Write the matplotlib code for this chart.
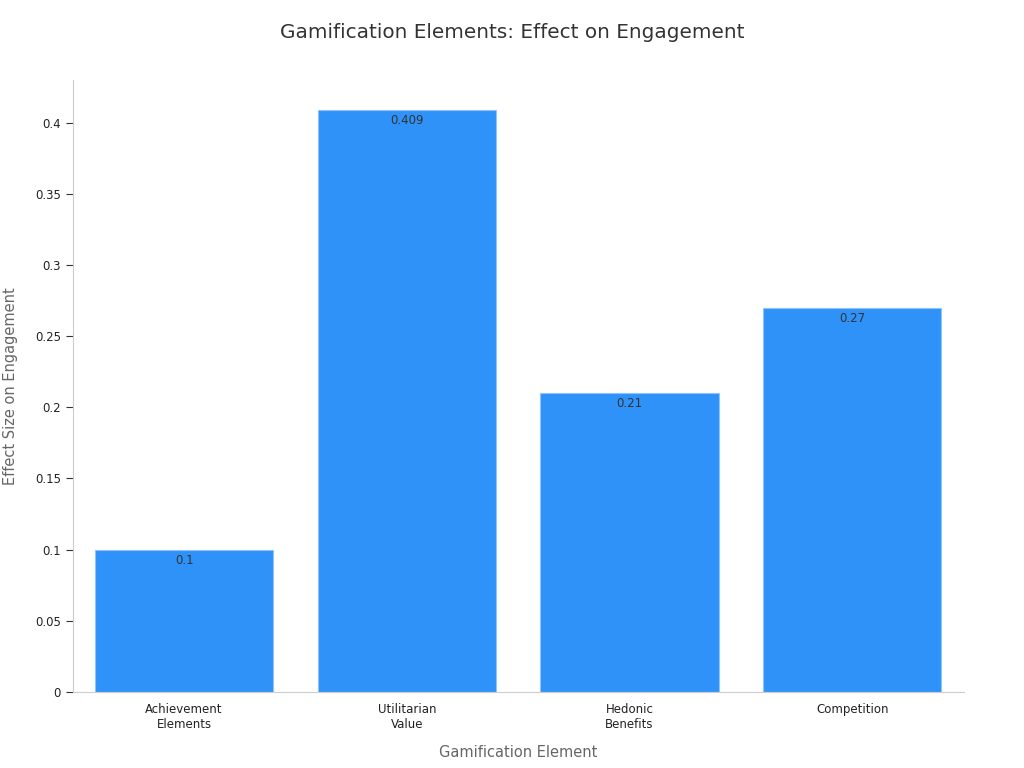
import matplotlib.pyplot as plt

categories = ["Achievement\nElements", "Utilitarian\nValue", "Hedonic\nBenefits", "Competition"]
values = [0.1, 0.409, 0.21, 0.27]
value_labels = ["0.1", "0.409", "0.21", "0.27"]
yticks = [0, 0.05, 0.1, 0.15, 0.2, 0.25, 0.3, 0.35, 0.4]
ytick_labels = ["0", "0.05", "0.1", "0.15", "0.2", "0.25", "0.3", "0.35", "0.4"]

fig = plt.figure(figsize=(10.24, 7.68), dpi=100)
ax = fig.add_axes([0.071, 0.099, 0.87, 0.797])

bars = ax.bar(range(len(categories)), values, width=0.8, color="#2f92f8",
              edgecolor="#8fc4fb", linewidth=0.8)
for b, lab in zip(bars, value_labels):
    ax.text(b.get_x() + b.get_width() / 2, b.get_height() - 0.003, lab,
            ha="center", va="top", fontsize=8.5, color="#333333")

ax.set_xlim(-0.5, 3.5)
ax.set_ylim(0, 0.43)
ax.set_xticks(range(len(categories)))
ax.set_xticklabels(categories, fontsize=8.5, color="#222222")
ax.set_yticks(yticks)
ax.set_yticklabels(ytick_labels, fontsize=8.5, color="#222222")
for s in ["top", "right"]:
    ax.spines[s].set_visible(False)
for s in ["left", "bottom"]:
    ax.spines[s].set_color("#cccccc")
ax.tick_params(axis="x", length=0, pad=8)
ax.tick_params(axis="y", color="#333333", length=5)

ax.set_xlabel("Gamification Element", fontsize=10.5, color="#666666", labelpad=10)
ax.set_ylabel("Effect Size on Engagement", fontsize=10.5, color="#666666", labelpad=12)
fig.suptitle("Gamification Elements: Effect on Engagement", fontsize=14.4,
             color="#333333", y=0.97)

fig.savefig("out.png")
